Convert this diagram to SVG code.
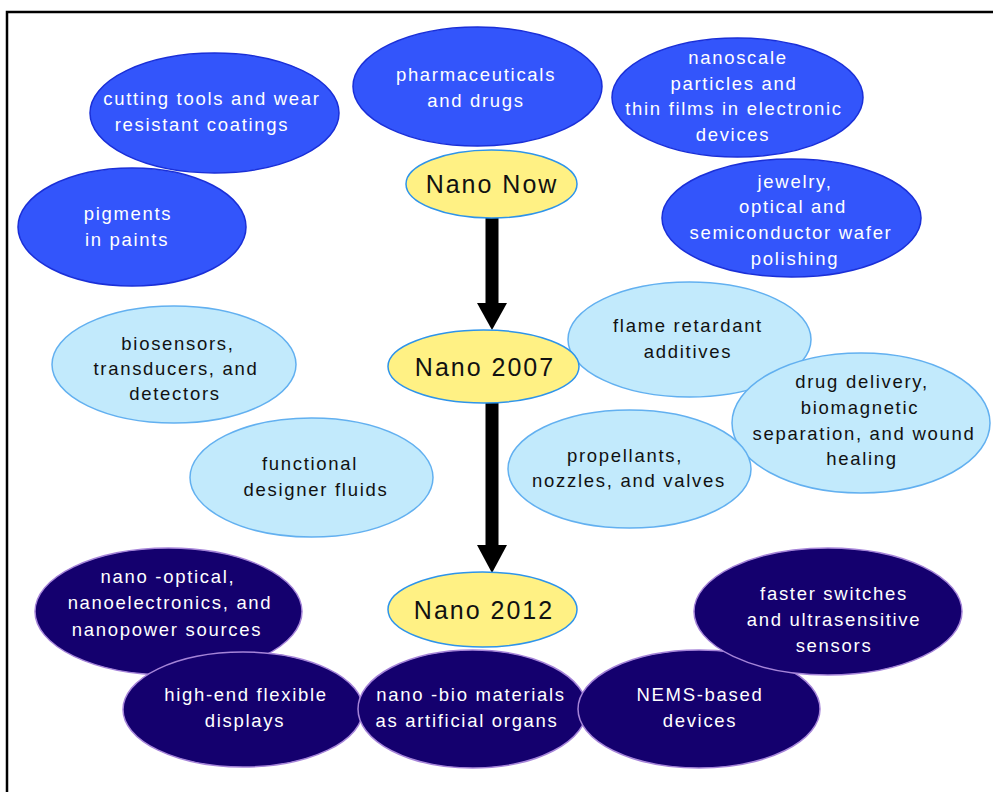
<svg xmlns="http://www.w3.org/2000/svg" width="993" height="792" viewBox="0 0 993 792">
  <defs>
    <style>
      .now { fill: #3355FB; stroke: #1A2FD8; stroke-width: 1.5; }
      .y07 { fill: #C2EAFC; stroke: #62B0F0; stroke-width: 1.5; }
      .y12 { fill: #14006E; stroke: #A584D8; stroke-width: 1.5; }
      .era { fill: #FFF184; stroke: #2E94EA; stroke-width: 1.5; }
      text { font-family: "Liberation Sans", Arial, Helvetica, sans-serif; font-size: 18.5px; letter-spacing: 1.7px; text-anchor: middle; dominant-baseline: central; }
      .lt { fill: #FFFFFF; }
      .dk { fill: #111111; }
      .big { font-size: 25px; letter-spacing: 2px; fill: #111111; }
      .shaft { stroke: #000000; stroke-width: 13; fill: none; }
      .head { fill: #000000; }
    </style>
  </defs>

  <rect width="993" height="792" fill="#FFFFFF"/>
  <!-- frame -->
  <path d="M7 792 V12 H993" fill="none" stroke="#000000" stroke-width="2.5"/>

  <!-- timeline connectors -->
  <g id="connectors">
    <line class="shaft" x1="492" y1="218" x2="492" y2="306"/>
    <polygon class="head" points="477,303 507,303 492,330"/>
    <line class="shaft" x1="492" y1="403" x2="492" y2="548"/>
    <polygon class="head" points="477,545 507,545 492,573"/>
  </g>

  <!-- current applications -->
  <g id="cutting-tools">
    <ellipse class="now" cx="214.5" cy="113" rx="124.5" ry="60"/>
    <text class="lt" x="212" y="98">cutting tools and wear</text>
    <text class="lt" x="202" y="124">resistant coatings</text>
  </g>
  <g id="pigments">
    <ellipse class="now" cx="132" cy="227" rx="114" ry="59"/>
    <text class="lt" x="128" y="213">pigments</text>
    <text class="lt" x="127" y="239">in paints</text>
  </g>
  <g id="pharmaceuticals">
    <ellipse class="now" cx="477.5" cy="86.5" rx="124.5" ry="59.5"/>
    <text class="lt" x="476" y="74">pharmaceuticals</text>
    <text class="lt" x="476" y="100">and drugs</text>
  </g>
  <g id="nanoscale-particles">
    <ellipse class="now" cx="737.5" cy="97.5" rx="125.5" ry="59.5"/>
    <text class="lt" x="738" y="57">nanoscale</text>
    <text class="lt" x="734" y="83">particles and</text>
    <text class="lt" x="734" y="108">thin films in electronic</text>
    <text class="lt" x="733" y="134">devices</text>
  </g>
  <g id="jewelry-polishing">
    <ellipse class="now" cx="791.5" cy="218" rx="129.5" ry="59"/>
    <text class="lt" x="795" y="181">jewelry,</text>
    <text class="lt" x="793" y="206">optical and</text>
    <text class="lt" x="791" y="232">semiconductor wafer</text>
    <text class="lt" x="795" y="258">polishing</text>
  </g>
  <g id="nano-now">
    <ellipse class="era" cx="491.5" cy="184" rx="85.5" ry="34"/>
    <text class="big" x="492" y="184">Nano Now</text>
  </g>

  <!-- 2007 applications -->
  <g id="biosensors">
    <ellipse class="y07" cx="174" cy="364.5" rx="122" ry="58.5"/>
    <text class="dk" x="178" y="343">biosensors,</text>
    <text class="dk" x="176" y="368">transducers, and</text>
    <text class="dk" x="175" y="393">detectors</text>
  </g>
  <g id="designer-fluids">
    <ellipse class="y07" cx="311.5" cy="477.5" rx="121.5" ry="59.5"/>
    <text class="dk" x="310" y="463">functional</text>
    <text class="dk" x="316" y="489">designer fluids</text>
  </g>
  <g id="flame-retardant">
    <ellipse class="y07" cx="689.5" cy="339.5" rx="121.5" ry="57.5"/>
    <text class="dk" x="688" y="325">flame retardant</text>
    <text class="dk" x="688" y="351">additives</text>
  </g>
  <g id="drug-delivery">
    <ellipse class="y07" cx="861" cy="423" rx="129" ry="70"/>
    <text class="dk" x="862" y="381">drug delivery,</text>
    <text class="dk" x="860" y="407">biomagnetic</text>
    <text class="dk" x="864" y="433">separation, and wound</text>
    <text class="dk" x="862" y="458">healing</text>
  </g>
  <g id="propellants">
    <ellipse class="y07" cx="629.5" cy="469" rx="121.5" ry="59"/>
    <text class="dk" x="625" y="455">propellants,</text>
    <text class="dk" x="629" y="480">nozzles, and valves</text>
  </g>
  <g id="nano-2007">
    <ellipse class="era" cx="483.5" cy="366.5" rx="95.5" ry="36.5"/>
    <text class="big" x="485" y="367">Nano 2007</text>
  </g>

  <!-- 2012 applications -->
  <g id="nano-optical">
    <ellipse class="y12" cx="168.5" cy="611.5" rx="133.5" ry="63.5"/>
    <text class="lt" x="168" y="576">nano -optical,</text>
    <text class="lt" x="170" y="602">nanoelectronics, and</text>
    <text class="lt" x="167" y="629">nanopower sources</text>
  </g>
  <g id="flexible-displays">
    <ellipse class="y12" cx="243" cy="709.5" rx="120" ry="57.5"/>
    <text class="lt" x="246" y="694">high-end flexible</text>
    <text class="lt" x="245" y="720">displays</text>
  </g>
  <g id="nano-bio">
    <ellipse class="y12" cx="472.5" cy="709" rx="114.5" ry="59"/>
    <text class="lt" x="471" y="694">nano -bio materials</text>
    <text class="lt" x="467" y="720">as artificial organs</text>
  </g>
  <g id="nems-devices">
    <ellipse class="y12" cx="699" cy="709" rx="121" ry="59"/>
    <text class="lt" x="700" y="694">NEMS-based</text>
    <text class="lt" x="700" y="720">devices</text>
  </g>
  <g id="faster-switches">
    <ellipse class="y12" cx="828" cy="611.5" rx="134" ry="63.5"/>
    <text class="lt" x="834" y="593">faster switches</text>
    <text class="lt" x="834" y="619">and ultrasensitive</text>
    <text class="lt" x="834" y="645">sensors</text>
  </g>
  <g id="nano-2012">
    <ellipse class="era" cx="482.5" cy="609.5" rx="94.5" ry="37.5"/>
    <text class="big" x="484" y="610">Nano 2012</text>
  </g>
</svg>
